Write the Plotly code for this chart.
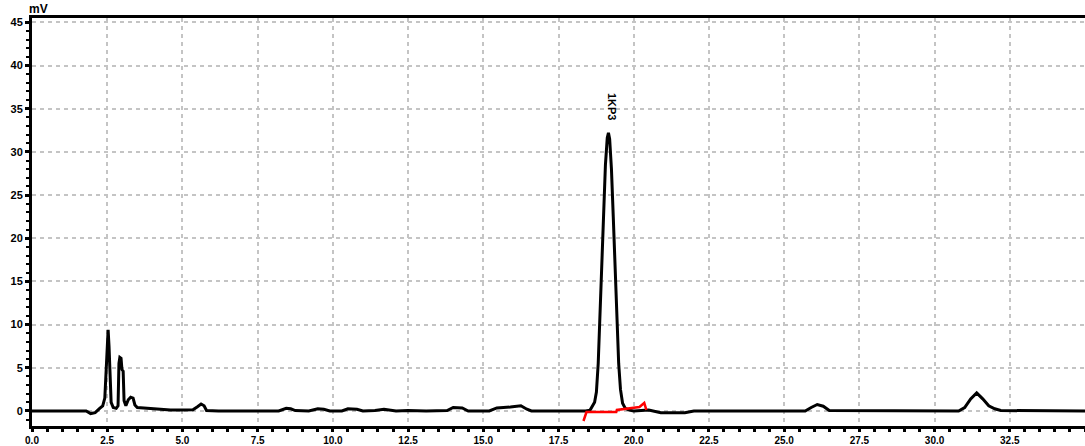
import plotly.graph_objects as go

# Chromatogram trace (time in min, signal in mV)
time_min = [0.0, 1.80, 1.95, 2.10, 2.25, 2.35, 2.42, 2.46, 2.50, 2.53, 2.56, 2.59, 2.63, 2.70, 2.80,
            2.86, 2.89, 2.92, 2.96, 2.99, 3.03, 3.06, 3.12, 3.20, 3.28, 3.36, 3.42, 3.50, 3.70, 3.90,
            4.20, 4.60, 5.00, 5.35, 5.50, 5.62, 5.72, 5.80, 6.20, 8.20, 8.45, 8.60, 8.75, 9.20, 9.50,
            9.70, 9.90, 10.30, 10.50, 10.80, 11.00, 11.40, 11.70, 12.10, 12.50, 13.10, 13.80, 14.00,
            14.30, 14.50, 15.20, 15.45, 15.90, 16.25, 16.45, 16.60, 18.40, 18.55, 18.70, 18.76, 18.82,
            18.88, 18.94, 19.00, 19.06, 19.12, 19.16, 19.20, 19.26, 19.32, 19.38, 19.44, 19.50, 19.56,
            19.63, 19.72, 19.85, 20.00, 20.50, 20.90, 21.70, 22.00, 25.70, 25.90, 26.10, 26.30, 26.50,
            30.80, 31.00, 31.20, 31.40, 31.60, 31.80, 32.00, 32.20, 35.0]
signal_mv = [0.0, 0.0, -0.3, -0.2, 0.3, 0.6, 1.5, 4.0, 8.0, 9.4, 7.5, 3.5, 1.0, 0.4, 0.3,
             0.6, 5.5, 6.2, 6.1, 4.8, 4.6, 1.2, 0.6, 1.3, 1.6, 1.5, 0.7, 0.4, 0.35, 0.3,
             0.15, 0.1, 0.1, 0.15, 0.5, 0.8, 0.6, 0.05, 0.0, 0.0, 0.3, 0.25, 0.05, 0.0, 0.25,
             0.2, 0.0, 0.0, 0.25, 0.2, 0.0, 0.05, 0.2, 0.0, 0.05, 0.0, 0.05, 0.4,
             0.35, 0.0, 0.0, 0.35, 0.45, 0.6, 0.2, 0.0, 0.0, 0.1, 1.0, 2.2, 5.5,
             11.0, 17.5, 23.5, 28.5, 31.6, 32.2, 31.5, 28.0, 22.5, 16.5, 10.5, 5.5, 2.5,
             0.9, 0.3, 0.1, 0.0, 0.1, -0.2, -0.2, 0.0, 0.0, 0.4, 0.75, 0.55, 0.05,
             0.0, 0.4, 1.4, 2.1, 1.4, 0.6, 0.25, 0.05, 0.0]

# Integration baseline (red)
base_time = [18.33, 18.43, 19.42, 19.44, 20.19, 20.35, 20.42]
base_mv = [-1.16, -0.12, -0.12, 0.12, 0.46, 0.93, 0.12]

peak_name = "1KP3"
peak_time = 19.28
peak_label_y = 35.2

x_ticks = [0.0, 2.5, 5.0, 7.5, 10.0, 12.5, 15.0, 17.5, 20.0, 22.5, 25.0, 27.5, 30.0, 32.5, 35.0]
x_tick_text = ["0.0", "2.5", "5.0", "7.5", "10.0", "12.5", "15.0", "17.5", "20.0", "22.5",
               "25.0", "27.5", "30.0", "32.5", "35.0"]
y_ticks = [0, 5, 10, 15, 20, 25, 30, 35, 40, 45]
y_tick_text = ["0", "5", "10", "15", "20", "25", "30", "35", "40", "45"]

fig = go.Figure()
fig.add_trace(go.Scatter(x=time_min, y=signal_mv, mode="lines",
                         line=dict(color="black", width=3), showlegend=False))
fig.add_trace(go.Scatter(x=base_time, y=base_mv, mode="lines",
                         line=dict(color="#ff0000", width=2.5), showlegend=False))

fig.add_annotation(x=peak_time, y=peak_label_y, text=peak_name, textangle=90, showarrow=False,
                   font=dict(family="Liberation Sans", size=11, color="black", weight="bold"))
fig.add_annotation(xref="paper", yref="paper", x=0.0, y=1.0, text="mV", showarrow=False,
                   xanchor="center", yanchor="bottom", xshift=6,
                   font=dict(family="Liberation Sans", size=12, color="black", weight="bold"))

grid = dict(showgrid=True, gridcolor="#c4c4c4", gridwidth=2, griddash="4px,4px")
fig.update_xaxes(range=[0, 35], tickvals=x_ticks, ticktext=x_tick_text, zeroline=False,
                 automargin=False,
                 showline=True, linecolor="black", linewidth=3, mirror=True,
                 ticks="outside", ticklen=3, tickwidth=3, tickcolor="black",
                 minor=dict(dtick=0.5, ticks="outside", ticklen=3, tickwidth=3, tickcolor="black",
                            showgrid=False),
                 tickfont=dict(family="Liberation Sans", size=10, color="black", weight="bold"),
                 **grid)
fig.update_yaxes(range=[-1.74, 45.5], tickvals=y_ticks, ticktext=y_tick_text, zeroline=False,
                 automargin=False,
                 showline=True, linecolor="black", linewidth=3,
                 ticks="outside", ticklen=4, tickwidth=3, tickcolor="black",
                 minor=dict(dtick=1, ticks="outside", ticklen=3, tickwidth=2, tickcolor="black",
                            showgrid=False),
                 tickfont=dict(family="Liberation Sans", size=11, color="black", weight="bold"),
                 **grid)
fig.update_layout(width=1085, height=446, margin=dict(l=32, r=0, t=18, b=20, autoexpand=False),
                  paper_bgcolor="white", plot_bgcolor="white")
fig.write_html("out.html", config={"displayModeBar": False},
               post_script="document.body.style.margin='0';document.body.style.overflow='hidden';")
